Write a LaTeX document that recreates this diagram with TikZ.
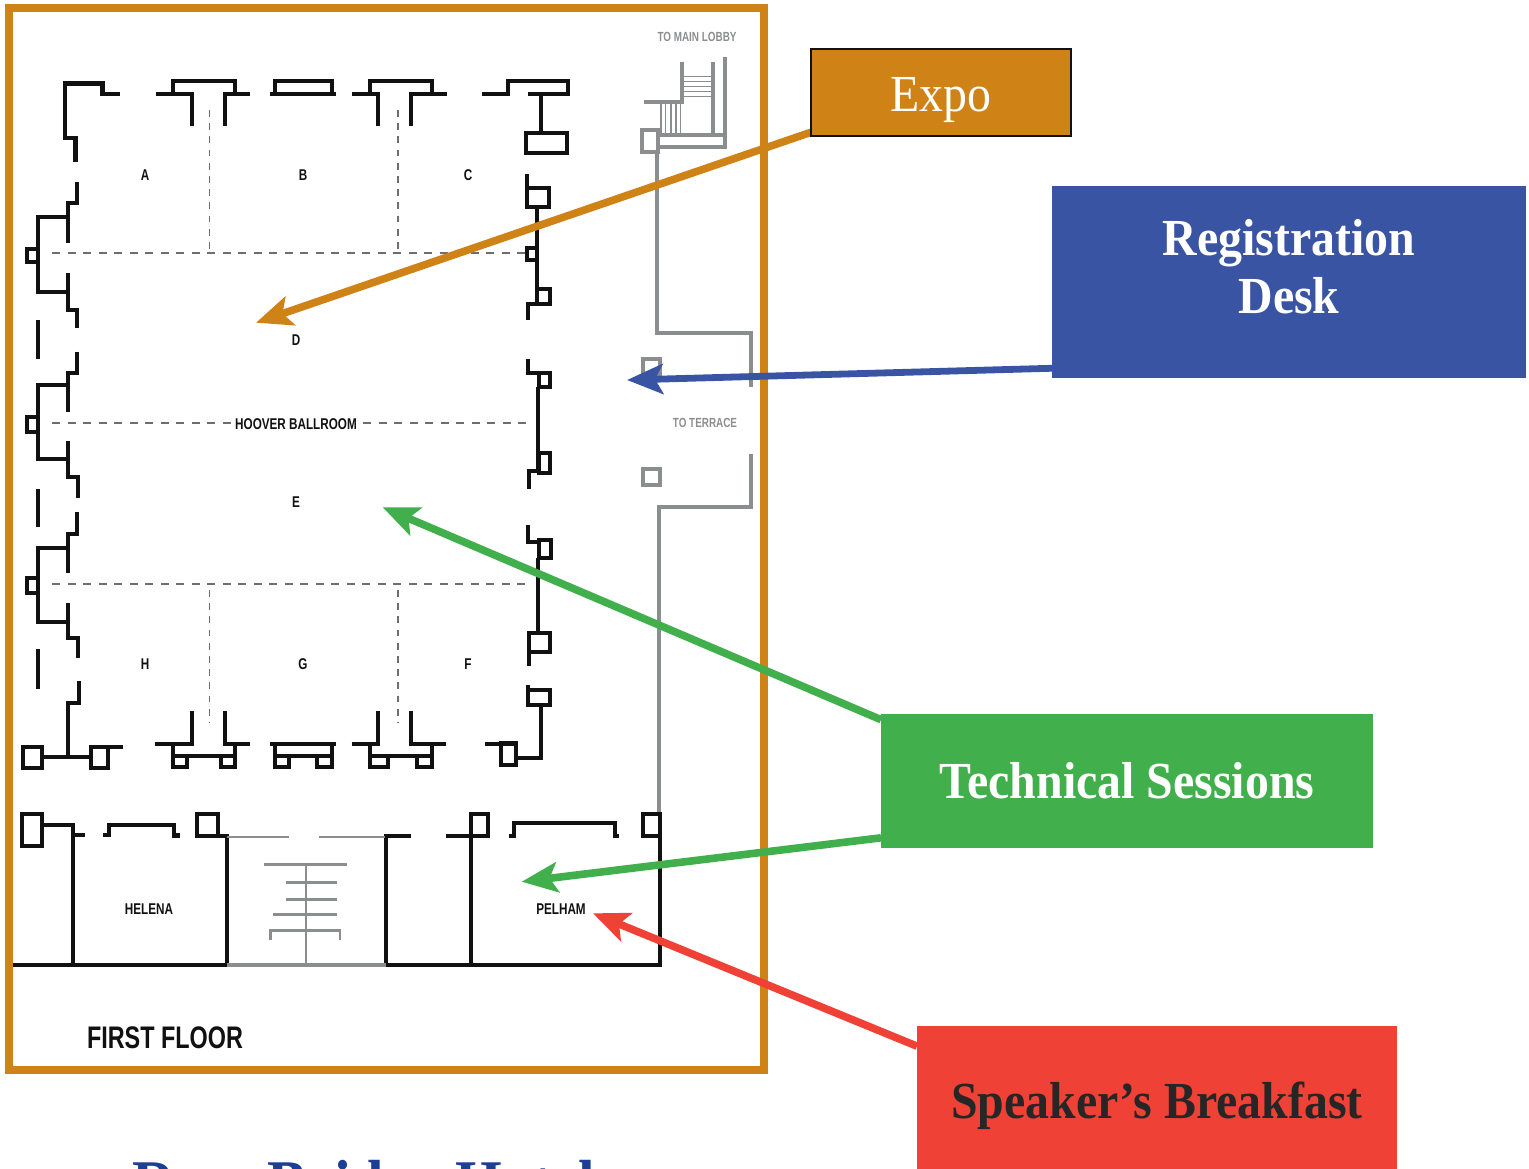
\documentclass[tikz,border=0pt]{standalone}
\usepackage{fontspec}
\setmainfont[FakeStretch=0.92]{Liberation Serif}
\newfontfamily\planfont[FakeStretch=0.75]{Liberation Sans}
\usetikzlibrary{arrows.meta}
\definecolor{frameorange}{HTML}{CF8317}
\definecolor{deskblue}{HTML}{3A54A4}
\definecolor{sessiongreen}{HTML}{42AF4D}
\definecolor{breakfastred}{HTML}{EF4136}
\definecolor{titleblue}{HTML}{1C3F94}
\definecolor{planblack}{HTML}{111111}
\definecolor{plangrey}{HTML}{8C8D8F}
\definecolor{dashgrey}{HTML}{6D6E70}
\pgfdeclarelayer{boxes}
\pgfsetlayers{main,boxes}
\tikzset{
	wall/.style={draw=planblack, line width=2.05pt},
	greywall/.style={draw=plangrey, line width=2pt},
	thinwall/.style={draw=plangrey, line width=0.7pt},
	partline/.style={draw=dashgrey, line width=1pt, dash pattern=on 4pt off 3.75pt},
	partcross/.style={draw=dashgrey, line width=0.9pt, dash pattern=on 3.4pt off 3.2pt},
	roomlabel/.style={font=\planfont\fontsize{7.8}{9}\selectfont\bfseries, text=planblack, inner sep=0pt},
	greylabel/.style={font=\planfont\fontsize{6.6}{8}\selectfont\bfseries, text=plangrey, inner sep=0pt},
	callbox/.style={inner sep=0pt, outer sep=0pt, align=center, font=\fontsize{26}{29}\selectfont\bfseries},
	callout/.style={line width=3.8pt, -{Stealth[length=18pt,width=15pt,inset=4pt]}}
}
\begin{document}
\begin{tikzpicture}[x=0.5pt,y=-0.5pt]
	\useasboundingbox (0,0) rectangle (1529,1168);

	% Outer frame
	\draw[frameorange, line width=4pt] (9,8) rectangle (764,1070);

	% Ballroom, top wall
	\draw[wall] (75.5,162) -- (75.5,138) -- (65,138) -- (65,83.5) -- (102.5,83.5) -- (102.5,94) -- (119.5,94);
	\draw[wall] (155.5,94) -- (191.7,94) -- (191.7,126);
	\draw[wall] (225,126) -- (225,94) -- (250,94);
	\draw[wall] (173.3,94) -- (173.3,81) -- (235,81) -- (235,94);
	\draw[wall] (269.5,94) -- (336,94);
	\draw[wall] (275,94) -- (275,81) -- (331.7,81) -- (331.7,94);
	\draw[wall] (352,94) -- (378,94) -- (378,126);
	\draw[wall] (410.7,126) -- (410.7,94) -- (446.7,94);
	\draw[wall] (370,94) -- (370,81) -- (431.7,81) -- (431.7,94);
	\draw[wall] (482.3,94) -- (508.3,94) -- (508.3,81) -- (568.3,81) -- (568.3,94) -- (527.7,94);
	\draw[wall] (540.7,94) -- (540.7,133.3);
	\draw[wall] (525.7,133.3) rectangle (566.7,153.3);

	% Ballroom, right wall
	\draw[wall] (526.7,174) -- (526.7,206.7);
	\draw[wall] (526.7,188.3) rectangle (549.3,206.7);
	\draw[wall] (537.3,206.7) -- (537.3,304) -- (528.3,304) -- (528.3,320);
	\draw[wall] (526.7,248.3) rectangle (537.3,260);
	\draw[wall] (537.3,289.3) rectangle (550,304);
	\draw[wall] (528.3,359.3) -- (528.3,373.3) -- (539.3,373.3);
	\draw[wall] (539.3,373.3) rectangle (550,386.7);
	\draw[wall] (538.3,386.7) -- (538.3,471) -- (529.3,471) -- (529.3,489.3);
	\draw[wall] (539.3,453.3) rectangle (550,473.3);
	\draw[wall] (528.3,525) -- (528.3,542.3) -- (539.3,542.3);
	\draw[wall] (539.3,540) rectangle (550.7,557.7);
	\draw[wall] (538.3,557.7) -- (538.3,633.3);
	\draw[wall] (529.3,633.3) rectangle (550,651.7);
	\draw[wall] (529.3,651.7) -- (529.3,665.7);
	\draw[wall] (528.3,685) -- (528.3,690);
	\draw[wall] (528.3,690) rectangle (550,705);
	\draw[wall] (541,705) -- (541,758.3) -- (516,758.3);
	\draw[wall] (501,743.5) rectangle (516,765);
	\draw[wall] (485,744) -- (501,744);

	% Ballroom, bottom wall
	\draw[wall] (155.3,744) -- (191.7,744) -- (191.7,711);
	\draw[wall] (225,711) -- (225,744) -- (250,744);
	\draw[wall] (173.3,744) -- (173.3,766.7) -- (187.3,766.7) -- (187.3,756);
	\draw[wall] (173.3,756) -- (235,756);
	\draw[wall] (235,744) -- (235,766.7) -- (220.7,766.7) -- (220.7,756);
	\draw[wall] (269.5,744) -- (336,744);
	\draw[wall] (275,744) -- (275,766.7) -- (289.3,766.7) -- (289.3,756);
	\draw[wall] (275,756) -- (331.7,756);
	\draw[wall] (331.7,744) -- (331.7,766.7) -- (317.3,766.7) -- (317.3,756);
	\draw[wall] (351.7,744) -- (378,744) -- (378,711);
	\draw[wall] (410.7,711) -- (410.7,744) -- (446,744);
	\draw[wall] (370,744) -- (370,766.7) -- (388.3,766.7) -- (388.3,756);
	\draw[wall] (370,756) -- (431.7,756);
	\draw[wall] (431.7,744) -- (431.7,766.7) -- (417.3,766.7) -- (417.3,756);
	\draw[wall] (23.3,746.7) rectangle (41.7,768.3);
	\draw[wall] (41.7,756.7) -- (90.7,756.7);
	\draw[wall] (90.7,746.7) rectangle (108.3,768.3);
	\draw[wall] (108.3,747.3) -- (123.3,747.3);
	\draw[wall] (67.7,756.7) -- (67.7,702.7) -- (79,702.7) -- (79,681);

	% Ballroom, left wall
	\draw[wall] (77.3,181.7) -- (77.3,203.3) -- (67.7,203.3) -- (67.7,243.3);
	\draw[wall] (67.7,217.3) -- (38.3,217.3) -- (38.3,291.7) -- (67.7,291.7);
	\draw[wall] (26.7,249) rectangle (38.3,261.7);
	\draw[wall] (67.7,272.7) -- (67.7,310) -- (77.3,310) -- (77.3,328.3);
	\draw[wall] (77.3,351.7) -- (77.3,373.3) -- (67.7,373.3) -- (67.7,411.7);
	\draw[wall] (67.7,385) -- (38.3,385) -- (38.3,459) -- (67.7,459);
	\draw[wall] (26.7,417.3) rectangle (38.3,431.7);
	\draw[wall] (67.7,441) -- (67.7,476.7) -- (78.3,476.7) -- (78.3,497.7);
	\draw[wall] (77.3,511.7) -- (77.3,534) -- (67.7,534) -- (67.7,573.3);
	\draw[wall] (67.7,547.7) -- (38.3,547.7) -- (38.3,621.7) -- (67.7,621.7);
	\draw[wall] (26.7,578.3) rectangle (38.3,592.7);
	\draw[wall] (67.7,602.7) -- (67.7,638.3) -- (78.3,638.3) -- (78.3,658.3);
	\draw[wall] (37.7,320) -- (37.7,359.3);
	\draw[wall] (37.7,489) -- (37.7,527.3);
	\draw[wall] (37.7,649.3) -- (37.7,689.3);

	% Movable partitions
	\draw[partline] (52,253) -- (526,253);
	\draw[partline] (52,423) -- (231,423);
	\draw[partline] (363,423) -- (527,423);
	\draw[partline] (52,583.5) -- (527,583.5);
	\foreach \x in {209.5,398.3} {
		\draw[partcross] (\x,110) -- (\x,253);
		\draw[partcross] (\x,590) -- (\x,723);
	}

	% Stairs to the lobby and service corridor
	\draw[greywall] (682.3,61.7) -- (682.3,101.7) -- (644,101.7);
	\draw[greywall] (713.3,61.7) -- (713.3,135);
	\draw[greywall] (725,56.7) -- (725,146.7) -- (658.3,146.7);
	\draw[greywall] (658.3,135) -- (725,135);
	\draw[greywall] (641.7,130) rectangle (658.3,151.7);
	\foreach \y in {76.7,81.7,86.7,91.7,96.7}
		\draw[thinwall] (683,\y) -- (713,\y);
	\foreach \x in {661,665.5,671,676,680.5}
		\draw[thinwall] (\x,103) -- (\x,133);
	\draw[greywall] (656.7,151.7) -- (656.7,333) -- (751,333) -- (751,387);
	\draw[greywall] (750.7,454) -- (750.7,506.7) -- (659.3,506.7) -- (659.3,814);
	\draw[greywall] (643.3,358.5) rectangle (660,375);
	\draw[greywall] (643.3,469.3) rectangle (660,485);

	% Helena and Pelham rooms
	\draw[wall] (21.7,814) rectangle (42.3,846);
	\draw[wall] (42.3,825) -- (73.3,825) -- (73.3,965);
	\draw[wall] (73.3,835) -- (85,835);
	\draw[wall] (103.3,835) -- (109.3,835) -- (109.3,825) -- (174,825) -- (174,835.5) -- (180,835.5);
	\draw[wall] (197.3,814) rectangle (217.7,836);
	\draw[wall] (217.7,836) -- (226.7,836) -- (226.7,965);
	\draw[wall] (13,965) -- (226.7,965);
	\draw[wall] (410.7,836) -- (386,836) -- (386,965) -- (660,965) -- (660,836);
	\draw[wall] (445.7,836) -- (470.7,836) -- (470.7,965);
	\draw[wall] (470.7,814) rectangle (488.3,836);
	\draw[wall] (509.3,835.7) -- (514,835.7) -- (514,823.3) -- (615,823.3) -- (615,835.7) -- (619.3,835.7);
	\draw[wall] (643.3,814) rectangle (660,836);

	% Foyer between the rooms
	\draw[greywall, line width=1pt] (226.7,836.7) -- (289.3,836.7);
	\draw[greywall, line width=1pt] (319.3,836.7) -- (385,836.7);
	\draw[greywall] (226.7,965) -- (386,965);
	\draw[greywall, line width=1.4pt] (264.3,864.3) -- (347.3,864.3);
	\draw[greywall, line width=1.4pt] (286,882.7) -- (337.3,882.7);
	\draw[greywall, line width=1.4pt] (286,899.3) -- (337.3,899.3);
	\draw[greywall, line width=1.4pt] (273.3,914.7) -- (337.3,914.7);
	\draw[greywall, line width=1.4pt] (270.7,940) -- (270.7,930.7) -- (340,930.7) -- (340,940);
	\draw[greywall, line width=1.4pt] (306,864.3) -- (306,965);

	% Plan labels
	\foreach \x/\y/\t in {145/175/A,303/175/B,468/175/C,296/340/D,296/502/E,468/664/F,303/664/G,145/664/H}
		\node[roomlabel] (room\t) at (\x,\y) {\t};
	\node[roomlabel] (hoover) at (296,424) {HOOVER BALLROOM};
	\node[roomlabel] (helena) at (149,909) {HELENA};
	\node[roomlabel] (pelham) at (561,909) {PELHAM};
	\node[greylabel] (lobby) at (697,37) {TO MAIN LOBBY};
	\node[greylabel] (terrace) at (705,423) {TO TERRACE};
	\node[roomlabel, font=\planfont\fontsize{15.6}{18}\selectfont\bfseries] (floor) at (165,1038) {FIRST FLOOR};

	% Hotel name, cut by the page edge
	\node[anchor=base west, inner sep=0pt, text=titleblue, font=\fontsize{32.6}{36}\selectfont\bfseries] (hotel) at (132,1205) {Ross Bridge Hotel};

	% Boxes
	\begin{pgfonlayer}{boxes}
		\node[callbox, draw=planblack, line width=1.25pt, fill=frameorange, minimum width=130pt, minimum height=43.5pt] (expo) at (941,92.5) {};
		\node[callbox, text=white, font=\fontsize{26}{29}\selectfont] (expotext) at (941,100.5) {Expo};
		\node[callbox, fill=deskblue, minimum width=237pt, minimum height=96pt] (desk) at (1289,282) {};
		\node[callbox, text=white] (desktext) at (1289,266.5) {Registration\\Desk};
		\node[callbox, fill=sessiongreen, text=white, minimum width=246pt, minimum height=67pt] (tech) at (1127,781) {Technical Sessions};
		\node[callbox, fill=breakfastred, text=black!85, minimum width=240pt, minimum height=80pt] (speaker) at (1157,1106) {Speaker’s Breakfast};
	\end{pgfonlayer}

	% Arrow targets
	\coordinate (expotip) at (256,322.7);
	\coordinate (desktip) at (627,380);
	\coordinate (balltip) at (382.7,507.3);
	\coordinate (pelhamtip) at (521.7,881.7);
	\coordinate (bfasttip) at (593,913.3);

	% Arrows
	\draw[callout, frameorange] (expo.197) -- (expotip);
	\draw[callout, deskblue, line width=3.4pt] (desk.200) -- (desktip);
	\draw[callout, sessiongreen] (tech.166) -- (balltip);
	\draw[callout, sessiongreen] (tech.193) -- (pelhamtip);
	\draw[callout, breakfastred] (speaker.166) -- (bfasttip);
\end{tikzpicture}
\end{document}
